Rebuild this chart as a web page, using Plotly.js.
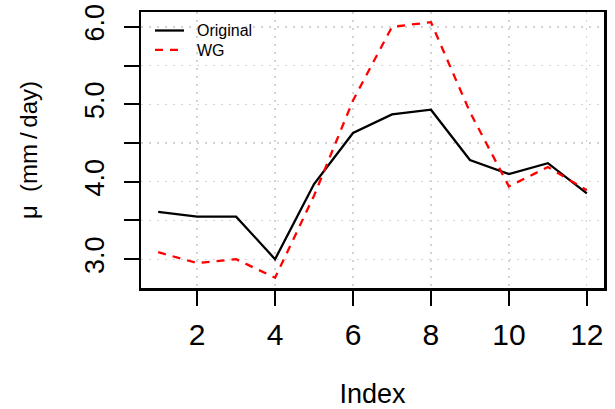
<!DOCTYPE html>
<html>
<head>
<meta charset="utf-8">
<script src="https://cdn.plot.ly/plotly-3.0.1.min.js"></script>
<style>
  html, body { margin: 0; padding: 0; background: #fff; }
  #chart { width: 615px; height: 409px; }
</style>
</head>
<body>
<div id="chart"></div>
<script>
// Monthly mean precipitation: observed series vs. weather-generator output
const months = [1, 2, 3, 4, 5, 6, 7, 8, 9, 10, 11, 12];
const original = [3.61, 3.55, 3.55, 3.00, 3.97, 4.63, 4.87, 4.93, 4.28, 4.10, 4.24, 3.85];
const wg = [3.09, 2.95, 3.00, 2.76, 3.82, 5.05, 6.00, 6.06, 4.90, 3.94, 4.19, 3.89];

const seriesNames = ["Original", "WG"];
const seriesColors = ["#000000", "#ff0000"];
const seriesDash = ["solid", "8px,7px"];

const xTickVals = [2, 4, 6, 8, 10, 12];
const xTickText = ["2", "4", "6", "8", "10", "12"];
const yTickVals = [3.0, 3.5, 4.0, 4.5, 5.0, 5.5, 6.0];
const yTickText = ["3.0", "", "4.0", "", "5.0", "", "6.0"];

const FONT = "Liberation Sans, Arial, Helvetica, sans-serif";
const LINE_W = 2.3;

// axis limits padded 4% beyond the data, like R's default
function padded(vals) {
  const lo = Math.min(...vals), hi = Math.max(...vals);
  const d = (hi - lo) * 0.04;
  return [lo - d, hi + d];
}
const xRange = padded(months);
const yRange = padded(original.concat(wg));

const seriesData = [original, wg];
const traces = seriesData.map((vals, i) => ({
  x: months, y: vals, name: seriesNames[i], type: "scatter", mode: "lines",
  showlegend: false,
  line: { color: seriesColors[i], width: LINE_W, dash: seriesDash[i] }
}));

// borderless legend in the top-left corner of the plot box
const M = { l: 141, r: 11, t: 12, b: 121 };
const plotW = 615 - M.l - M.r, plotH = 409 - M.t - M.b;
const px = v => v / plotW;              // horizontal pixels -> paper fraction
const py = v => 1 - v / plotH;          // pixels below top edge -> paper fraction
const legendShapes = [], legendNotes = [];
seriesNames.forEach((name, i) => {
  const rowY = 18.5 + i * 19.3;
  legendShapes.push({
    type: "line", xref: "paper", yref: "paper",
    x0: px(14), x1: px(43), y0: py(rowY), y1: py(rowY),
    line: { color: seriesColors[i], width: LINE_W, dash: seriesDash[i] }
  });
  legendNotes.push({
    xref: "paper", yref: "paper", x: px(54), y: py(rowY + 0.5),
    xanchor: "left", yanchor: "middle", showarrow: false,
    text: name, font: { family: FONT, size: 16, color: "#000" }
  });
});

const layout = {
  width: 615, height: 409,
  margin: M,
  paper_bgcolor: "#ffffff", plot_bgcolor: "#ffffff",
  font: { family: FONT, color: "#000000" },
  showlegend: false,
  shapes: legendShapes,
  annotations: legendNotes,
  xaxis: {
    range: xRange, autorange: false,
    tickmode: "array", tickvals: xTickVals, ticktext: xTickText,
    ticks: "outside", ticklen: 15, tickwidth: 2, tickcolor: "#000",
    tickfont: { family: FONT, size: 30, color: "#000" },
    ticklabelstandoff: 3,
    showline: true, linewidth: 2.5, linecolor: "#000", mirror: true,
    showgrid: true, gridcolor: "#d3d3d3", gridwidth: 1.3, griddash: "2px,6px",
    zeroline: false,
    title: { text: "Index", font: { family: FONT, size: 27, color: "#000" }, standoff: 38 }
  },
  yaxis: {
    range: yRange, autorange: false,
    tickmode: "array", tickvals: yTickVals, ticktext: yTickText,
    ticks: "outside", ticklen: 15, tickwidth: 2, tickcolor: "#000",
    tickangle: -90,
    tickfont: { family: FONT, size: 27, color: "#000" },
    ticklabelstandoff: 9,
    showline: true, linewidth: 2.5, linecolor: "#000", mirror: true,
    showgrid: true, gridcolor: "#d3d3d3", gridwidth: 1.3, griddash: "2px,6px",
    zeroline: false,
    title: { text: "μ  (mm\u2009/\u2009day)", font: { family: FONT, size: 24, color: "#000" }, standoff: 36 }
  }
};

Plotly.newPlot("chart", traces, layout, { staticPlot: true, displayModeBar: false });
</script>
</body>
</html>
